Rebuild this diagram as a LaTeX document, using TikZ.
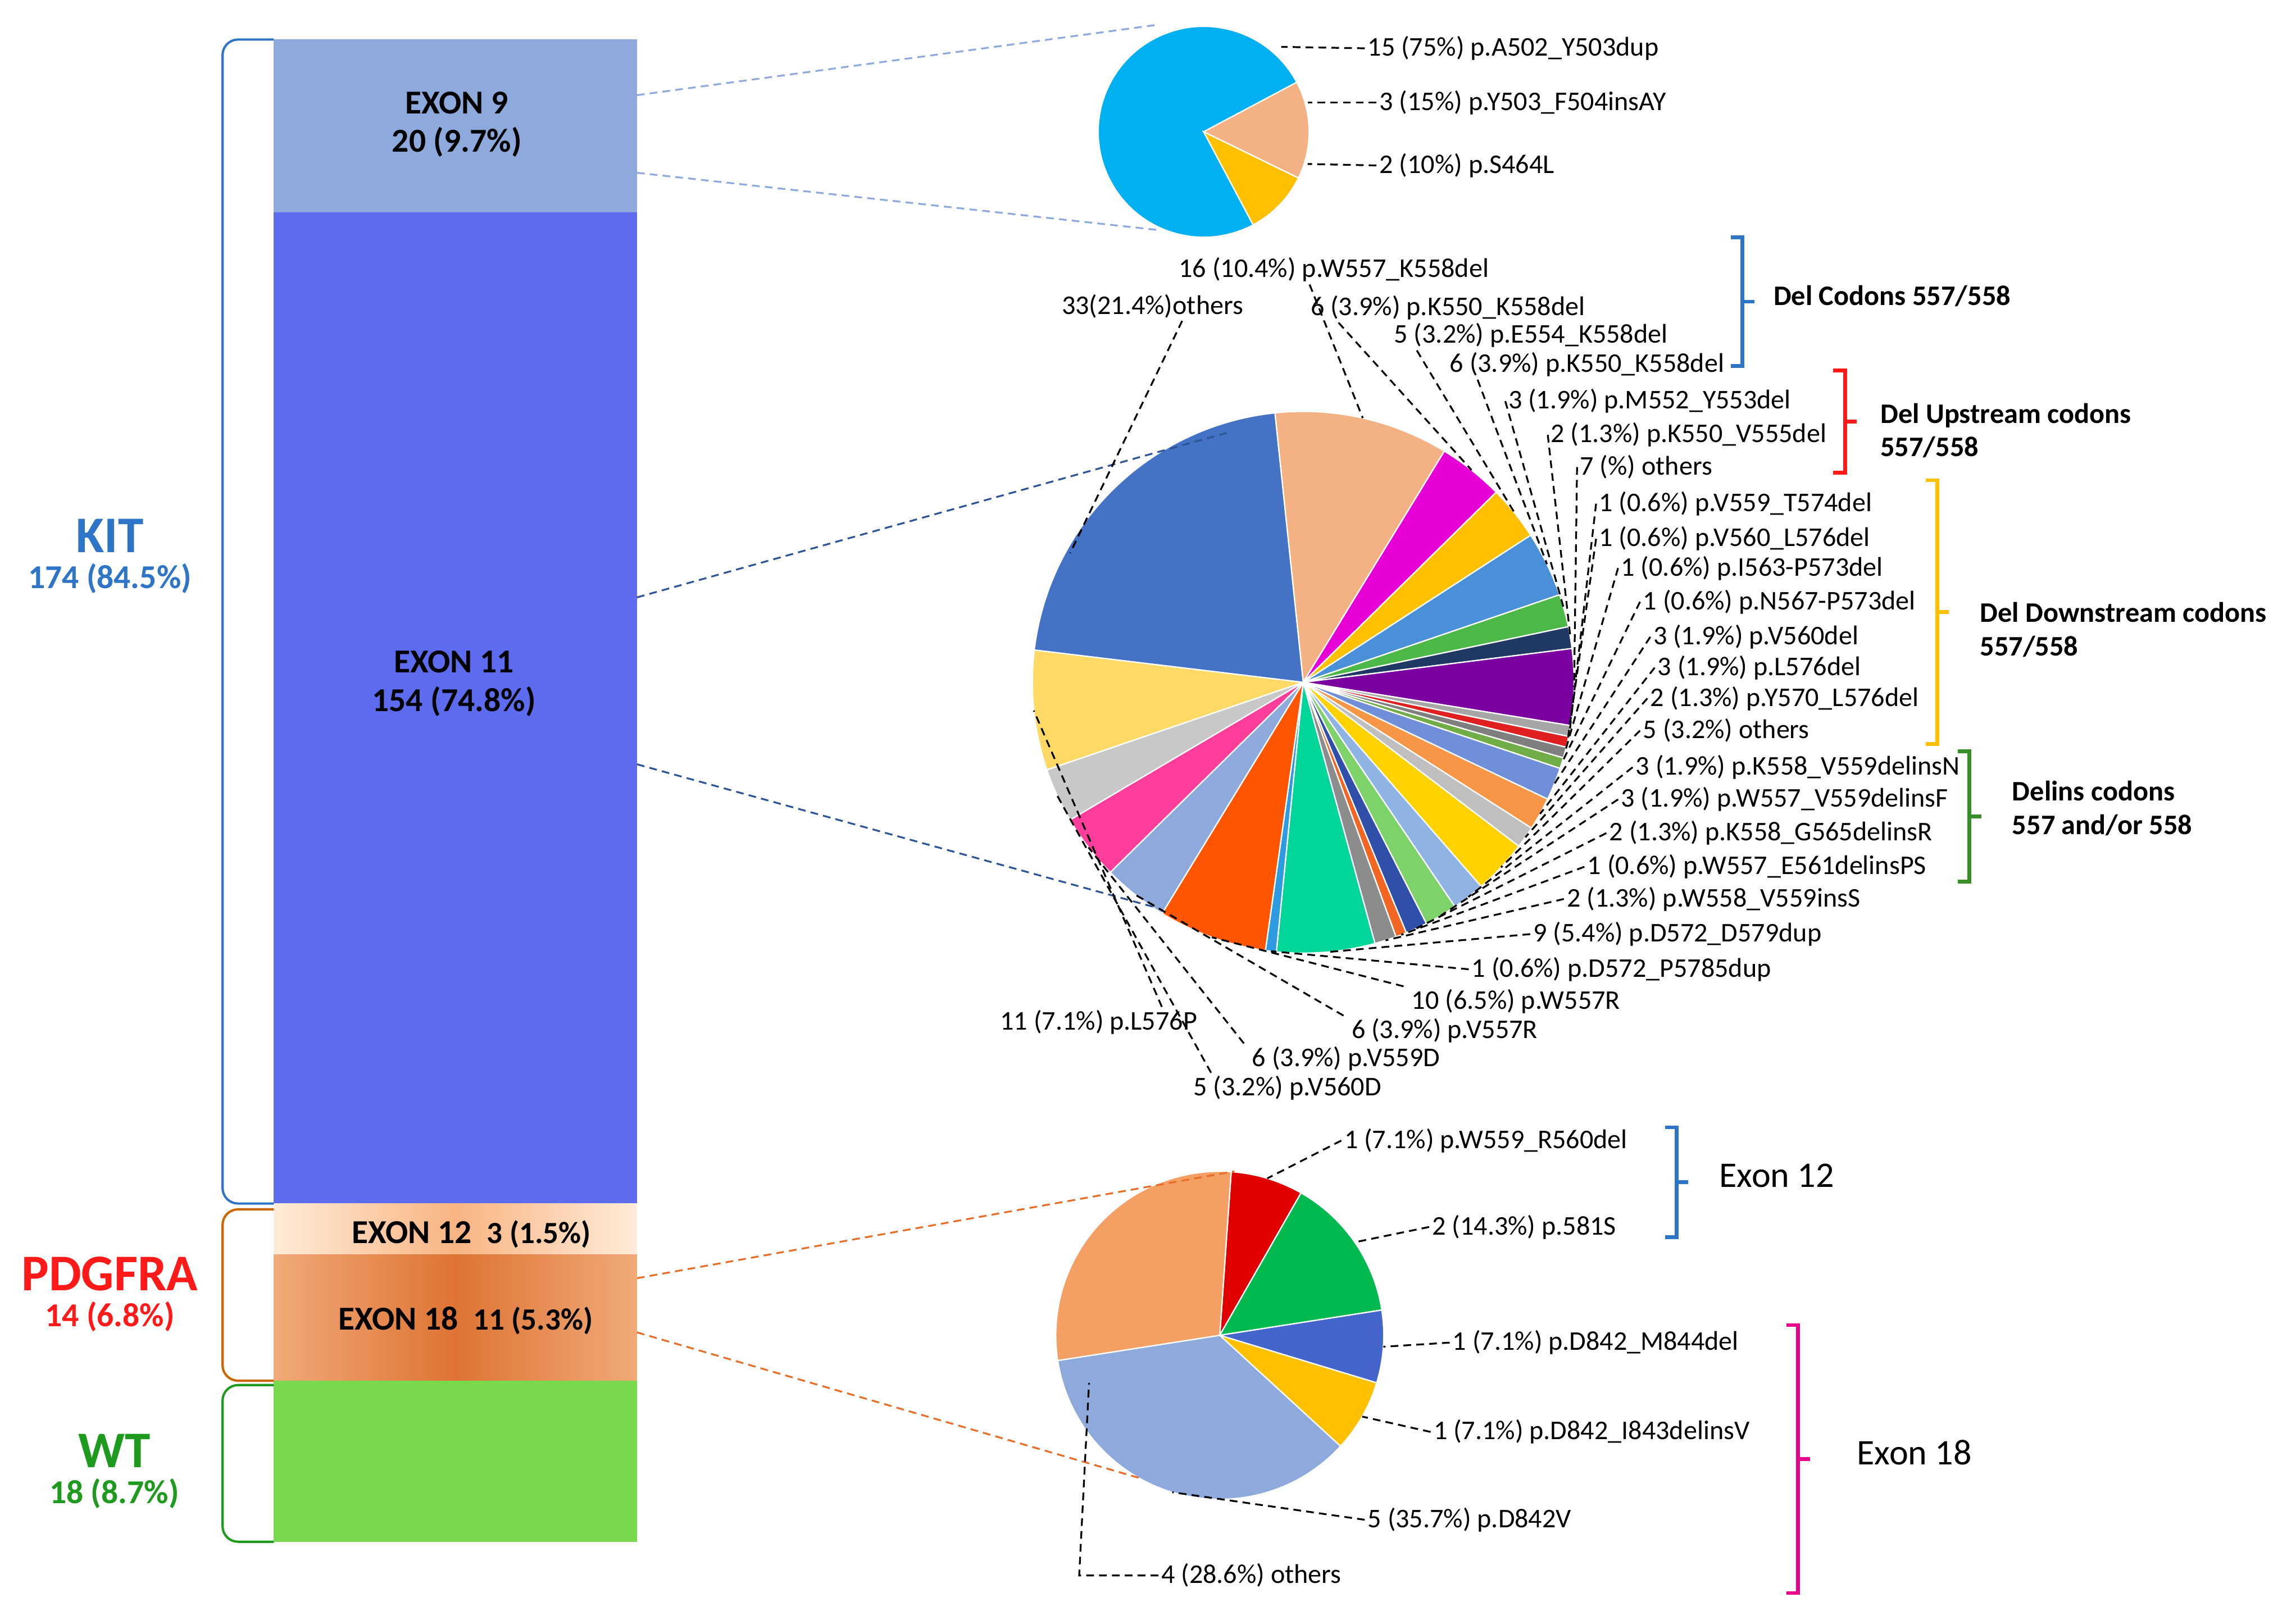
\documentclass[tikz,border=0pt]{standalone}
\usepackage{fontspec}
\setmainfont{Carlito}
\usetikzlibrary{calc}
\definecolor{kitblue}{HTML}{2E75C8}
\definecolor{pdred}{HTML}{FF1A1A}
\definecolor{wtgreen}{HTML}{1E9A1E}
\definecolor{byel}{HTML}{FFC000}
\definecolor{bgrn}{HTML}{388E28}
\definecolor{bmag}{HTML}{E6008C}
\newcommand\angA{0}
\newcommand\Rad{100}
\newcommand\pslice[4]{%
\pgfmathsetmacro\angB{\angA-#2*360/#3}%
\pgfmathsetmacro\angM{(\angA+\angB)/2}%
\definecolor{tmpc}{HTML}{#4}%
\fill[fill=tmpc,draw=white,line width=0.5pt] (0,0) -- (\angA:\Rad) arc[start angle=\angA,end angle=\angB,radius=\Rad] -- cycle;
\coordinate (#1) at (\angM:\Rad);
\xdef\angA{\angB}}
\newcommand\rbrk[4]{%
\draw[#4,line width=1.5pt] ({#1-8},#2) -- (#1,#2) -- (#1,#3) -- ({#1-8},#3);
\draw[#4,line width=1.5pt] (#1,{(#2+#3)/2}) -- ++(8,0);}
\begin{document}
\begin{tikzpicture}[x=0.02cm,y=-0.02cm,
 lbl/.style={anchor=west,inner sep=1pt,font=\fontsize{10.5}{12}\selectfont},
 lead/.style={densely dashed,line width=0.7pt},
 exl/.style={font=\fontsize{13}{15}\selectfont\bfseries,align=center},
 brl/.style={anchor=west,align=left,font=\fontsize{11}{13}\selectfont\bfseries},
 grp/.style={rounded corners=6,line width=0.9pt}]
\useasboundingbox (0,0) rectangle (1568,1100);
\definecolor{c9}{HTML}{8EA9DB}\definecolor{c11}{HTML}{5D6BEE}
\definecolor{c12}{HTML}{F8B482}\definecolor{c18a}{HTML}{F0AA78}\definecolor{c18}{HTML}{DE7334}
\definecolor{cwt}{HTML}{77D94B}\definecolor{z11}{HTML}{2F5597}\definecolor{z18}{HTML}{E66E28}
% bars
\fill[c9] (187,27) rectangle (435,145);
\fill[c11] (187,145) rectangle (435,822);
\shade[left color=orange!15,right color=orange!15,middle color=c12] (187,822) rectangle (435,857);
\shade[left color=c18a,right color=c18a,middle color=c18] (187,857) rectangle (435,943);
\fill[cwt] (187,943) rectangle (435,1053);
\node[exl] (e9) at (312,85) {EXON 9\\20 (9.7\%)};
\node[exl] (e11) at (310,467) {EXON 11\\154 (74.8\%)};
\node[exl] (e12) at (322,843) {EXON 12\ \ {\fontsize{12}{14}\selectfont 3 (1.5\%)}};
\node[exl] (e18) at (318,902) {EXON 18\ \ {\fontsize{12}{14}\selectfont 11 (5.3\%)}};
% group brackets
\draw[grp,kitblue] (187,27) -- (152,27) -- (152,822) -- (187,822);
\draw[grp,orange!80!black] (187,826) -- (152,826) -- (152,943) -- (187,943);
\draw[grp,wtgreen] (187,946) -- (152,946) -- (152,1053) -- (187,1053);
\node[kitblue,align=center,font=\bfseries] (kit) at (75,380) {{\fontsize{20}{22}\selectfont KIT}\\[2pt]{\fontsize{13}{15}\selectfont 174 (84.5\%)}};
\node[pdred,align=center,font=\bfseries] (pd) at (75,884) {{\fontsize{20}{22}\selectfont PDGFRA}\\[2pt]{\fontsize{13}{15}\selectfont 14 (6.8\%)}};
\node[wtgreen,align=center,font=\bfseries] (wt) at (78,1005) {{\fontsize{20}{22}\selectfont WT}\\[2pt]{\fontsize{13}{15}\selectfont 18 (8.7\%)}};
% zoom lines
\coordinate (b9a) at (435,65); \coordinate (b9b) at (435,118);
\coordinate (b11a) at (435,408); \coordinate (b11b) at (435,522);
\coordinate (b18a) at (435,873); \coordinate (b18b) at (435,910);
% pie 1
\begin{scope}[shift={(822,90)},yscale=-1]
\renewcommand\Rad{72}\xdef\angA{298}
\pslice{q1}{15}{20}{00B0F0}
\pslice{q2}{3}{20}{F4B183}
\pslice{q3}{2}{20}{FFC000}
\end{scope}
\draw[lead,c9] (b9a) -- (790,17);
\draw[lead,c9] (b9b) -- (790,157);
\node[lbl] (l1) at (932,33) {15 (75\%) p.A502\_Y503dup};
\node[lbl] (l2) at (940,70) {3 (15\%) p.Y503\_F504insAY};
\node[lbl] (l3) at (940,113) {2 (10\%) p.S464L};
\draw[lead] (l1.west) -- (875,32);
\draw[lead] (l2.west) -- (893,70);
\draw[lead] (l3.west) -- (893,112);
% pie 2
\begin{scope}[shift={(890,466)},yscale=-1]
\renewcommand\Rad{185}\xdef\angA{96}
\pslice{p1}{16}{154}{F4B183}
\pslice{p2}{6}{154}{E600D6}
\pslice{p3}{5}{154}{FFC000}
\pslice{p4}{6}{154}{4A90D9}
\pslice{p5}{3}{154}{4CB848}
\pslice{p6}{2}{154}{203864}
\pslice{p7}{7}{154}{7B00A0}
\pslice{p8}{1}{154}{A6A6A6}
\pslice{p9}{1}{154}{E02020}
\pslice{p10}{1}{154}{7F7F7F}
\pslice{p11}{1}{154}{70AD47}
\pslice{p12}{3}{154}{6F8FD8}
\pslice{p13}{3}{154}{F79646}
\pslice{p14}{2}{154}{BFBFBF}
\pslice{p15}{5}{154}{FFD200}
\pslice{p16}{3}{154}{8FB4E3}
\pslice{p17}{3}{154}{7DD36A}
\pslice{p18}{2}{154}{2F4FA8}
\pslice{p19}{1}{154}{F26522}
\pslice{p20}{2}{154}{8C8C8C}
\pslice{p21}{9}{154}{00D69A}
\pslice{p22}{1}{154}{2E9BE0}
\pslice{p23}{10}{154}{FF5500}
\pslice{p24}{6}{154}{8EA9DB}
\pslice{p25}{6}{154}{FF3D9A}
\pslice{p26}{5}{154}{C8C8C8}
\pslice{p27}{11}{154}{FFD966}
\pslice{p28}{33}{154}{4472C4}
\coordinate (p28i) at (151:182);
\end{scope}
\draw[lead,z11] (b11a) -- (840,295);
\draw[lead,z11] (b11b) -- (790,620);
\node[lbl] (m1) at (803,184) {16 (10.4\%) p.W557\_K558del};
\node[lbl] (m2) at (893,210) {6 (3.9\%) p.K550\_K558del};
\node[lbl] (m3) at (950,229) {5 (3.2\%) p.E554\_K558del};
\node[lbl] (m4) at (988,249) {6 (3.9\%) p.K550\_K558del};
\node[lbl] (m5) at (1028,274) {3 (1.9\%) p.M552\_Y553del};
\node[lbl] (m6) at (1057,297) {2 (1.3\%) p.K550\_V555del};
\node[lbl] (m7) at (1077,319) {7 (\%) others};
\node[lbl] (m8) at (1090,344) {1 (0.6\%) p.V559\_T574del};
\node[lbl] (m9) at (1090,368) {1 (0.6\%) p.V560\_L576del};
\node[lbl] (m10) at (1105,388) {1 (0.6\%) p.I563-P573del};
\node[lbl] (m11) at (1120,411) {1 (0.6\%) p.N567-P573del};
\node[lbl] (m12) at (1127,435) {3 (1.9\%) p.V560del};
\node[lbl] (m13) at (1130,456) {3 (1.9\%) p.L576del};
\node[lbl] (m14) at (1125,477) {2 (1.3\%) p.Y570\_L576del};
\node[lbl] (m15) at (1120,499) {5 (3.2\%) others};
\node[lbl] (m16) at (1115,524) {3 (1.9\%) p.K558\_V559delinsN};
\node[lbl] (m17) at (1105,546) {3 (1.9\%) p.W557\_V559delinsF};
\node[lbl] (m18) at (1097,569) {2 (1.3\%) p.K558\_G565delinsR};
\node[lbl] (m19) at (1082,592) {1 (0.6\%) p.W557\_E561delinsPS};
\node[lbl] (m20) at (1068,614) {2 (1.3\%) p.W558\_V559insS};
\node[lbl] (m21) at (1045,638) {9 (5.4\%) p.D572\_D579dup};
\node[lbl] (m22) at (1003,662) {1 (0.6\%) p.D572\_P5785dup};
\node[lbl] (m23) at (962,684) {10 (6.5\%) p.W557R};
\node[lbl] (m24) at (921,704) {6 (3.9\%) p.V557R};
\node[lbl] (m25) at (853,723) {6 (3.9\%) p.V559D};
\node[lbl] (m26) at (813,743) {5 (3.2\%) p.V560D};
\node[lbl] (m27) at (681,698) {11 (7.1\%) p.L576P};
\node[lbl] (m28) at (723,209) {33(21.4\%)others};
\draw[lead] ([xshift=52]m1.south west) -- (p1);
\draw[lead] ([xshift=12]m2.south west) -- (p2);
\draw[lead] ([xshift=10]m3.south west) -- (p3);
\draw[lead] ([xshift=12]m4.south west) -- (p4);
\foreach \i in {5,...,22} {\draw[lead] (m\i.west) -- (p\i);}
\draw[lead] ([xshift=-2]m23.north west) -- (p23);
\draw[lead] ([xshift=-2]m24.north west) -- (p24);
\draw[lead] ([xshift=-2]m25.north west) -- (p25);
\draw[lead] ([xshift=8]m26.north west) -- (p26);
\draw[lead] ([xshift=64]m27.north west) -- (p27);
\draw[lead] ([xshift=48]m28.south west) -- (p28i);
% brackets pie 2
\rbrk{1190}{162}{250}{kitblue}
\node[brl] (g1) at (1205,202) {Del Codons 557/558};
\rbrk{1260}{253}{323}{pdred}
\node[brl] (g2) at (1278,294) {Del Upstream codons\\557/558};
\rbrk{1323}{328}{508}{byel}
\node[brl] (g3) at (1346,430) {Del Downstream codons\\557/558};
\rbrk{1345}{513}{602}{bgrn}
\node[brl] (g4) at (1368,552) {Delins codons\\557 and/or 558};
% pie 3
\begin{scope}[shift={(833,912)},yscale=-1]
\renewcommand\Rad{112}\xdef\angA{86}
\pslice{r1}{1}{14}{E00000}
\pslice{r2}{2}{14}{00BA50}
\pslice{r3}{1}{14}{4466CC}
\pslice{r4}{1}{14}{FFC000}
\pslice{r5}{5}{14}{8EA9DB}
\pslice{r6}{4}{14}{F4A064}
\coordinate (r6i) at (200:95);
\end{scope}
\draw[lead,z18] (b18a) -- (843,800);
\draw[lead,z18] (b18b) -- (780,1010);
\node[lbl] (n1) at (916,779) {1 (7.1\%) p.W559\_R560del};
\node[lbl] (n2) at (976,838) {2 (14.3\%) p.581S};
\node[lbl] (n3) at (990,917) {1 (7.1\%) p.D842\_M844del};
\node[lbl] (n4) at (977,978) {1 (7.1\%) p.D842\_I843delinsV};
\node[lbl] (n5) at (932,1038) {5 (35.7\%) p.D842V};
\node[lbl] (n6) at (791,1076) {4 (28.6\%) others};
\foreach \i in {1,...,5} {\draw[lead] (n\i.west) -- (r\i);}
\draw[lead] (n6.west) -- (737,1076) -- (r6i);
\rbrk{1145}{770}{845}{kitblue}
\node[anchor=west,font=\fontsize{14}{16}\selectfont] (h1) at (1168,803) {Exon 12};
\rbrk{1228}{905}{1088}{bmag}
\node[anchor=west,font=\fontsize{14}{16}\selectfont] (h2) at (1262,992) {Exon 18};
\end{tikzpicture}
\end{document}
